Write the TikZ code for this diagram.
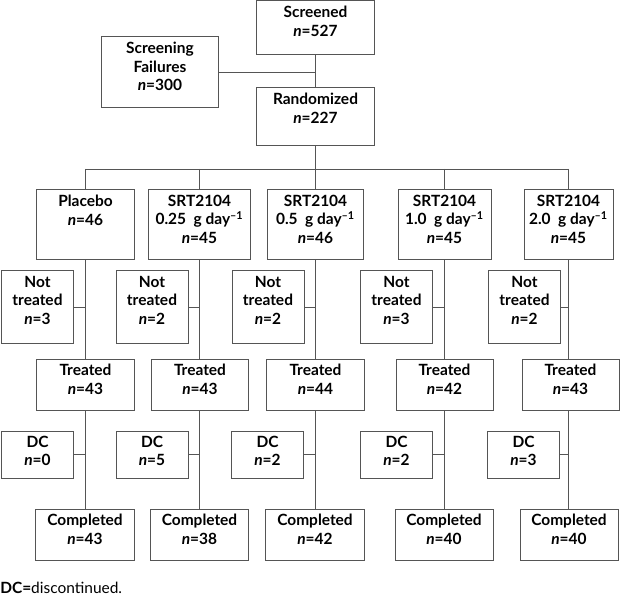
\documentclass[tikz,border=0pt]{standalone}
\usepackage{fontspec}
\setmainfont{Lato}
\usetikzlibrary{positioning}
\definecolor{rulegray}{RGB}{85,85,85}
\tikzset{
  wire/.style={draw=rulegray,line width=0.7pt},
  box/.style={draw=rulegray,line width=0.7pt,inner sep=0pt},
  txt/.style={anchor=north,align=center,inner sep=0pt,yshift=-4pt,
              font=\fontsize{11}{13}\selectfont\bfseries},
  topbox/.style={box,minimum width=2.925cm},
  arm/.style={box,minimum height=1.725cm},
  skipped/.style={box,minimum width=1.8cm,minimum height=1.8cm},
  treated/.style={box,minimum width=2.425cm,minimum height=1.275cm},
  stopped/.style={box,minimum width=1.8cm,minimum height=1.175cm},
  done/.style={box,minimum width=2.45cm,minimum height=1.275cm},
}

\begin{document}
\begin{tikzpicture}[x=0.025cm,y=-0.025cm]
  \path[use as bounding box] (0,0) rectangle (624,597);

  % screening and randomisation
  \node[topbox,minimum height=1.325cm,label={[txt]north:{Screened\\\textit{n}=527}}]
    (scr) at (315.5,27.5) {};
  \node[topbox,minimum width=2.9cm,minimum height=1.75cm,
        label={[txt]north:{Screening\\Failures\\\textit{n}=300}}]
    (fail) at (160,72) {};
  \node[topbox,minimum height=1.425cm,label={[txt]north:{Randomized\\\textit{n}=227}}]
    (rnd) at (315.5,116.5) {};
  \coordinate (split) at (315.5,169);

  % treatment arms
  \node[arm,minimum width=2.425cm,label={[txt]north:{Placebo\\\textit{n}=46}}]
    (a1) at (85.5,224.5) {};
  \node[arm,minimum width=2.525cm,
        label={[txt]north:{SRT2104\\0.25~~g day\textsuperscript{--1}\\\textit{n}=45}}]
    (a2) at (199.5,224.5) {};
  \node[arm,minimum width=2.375cm,
        label={[txt]north:{SRT2104\\0.5~~g day\textsuperscript{--1}\\\textit{n}=46}}]
    (a3) at (315.5,224.5) {};
  \node[arm,minimum width=2.325cm,
        label={[txt]north:{SRT2104\\1.0~~g day\textsuperscript{--1}\\\textit{n}=45}}]
    (a4) at (444.5,224.5) {};
  \node[arm,minimum width=2.225cm,
        label={[txt]north:{SRT2104\\2.0~~g day\textsuperscript{--1}\\\textit{n}=45}}]
    (a5) at (568.5,224.5) {};

  % not treated
  \node[skipped,label={[txt]north:{Not\\treated\\\textit{n}=3}}] (n1) at (37.5,307) {};
  \node[skipped,label={[txt]north:{Not\\treated\\\textit{n}=2}}] (n2) at (152,307) {};
  \node[skipped,label={[txt]north:{Not\\treated\\\textit{n}=2}}] (n3) at (268,307) {};
  \node[skipped,label={[txt]north:{Not\\treated\\\textit{n}=3}}] (n4) at (396.5,307) {};
  \node[skipped,label={[txt]north:{Not\\treated\\\textit{n}=2}}] (n5) at (524.5,307) {};

  % treated
  \node[treated,label={[txt]north:{Treated\\\textit{n}=43}}] (t1) at (85.5,384.5) {};
  \node[treated,label={[txt]north:{Treated\\\textit{n}=43}}] (t2) at (200,384.5) {};
  \node[treated,label={[txt]north:{Treated\\\textit{n}=44}}] (t3) at (315.5,384.5) {};
  \node[treated,label={[txt]north:{Treated\\\textit{n}=42}}] (t4) at (444.5,384.5) {};
  \node[treated,label={[txt]north:{Treated\\\textit{n}=43}}] (t5) at (570.5,384.5) {};

  % discontinued
  \node[stopped,label={[txt]north:{DC\\\textit{n}=0}}] (d1) at (37.5,454.5) {};
  \node[stopped,label={[txt]north:{DC\\\textit{n}=5}}] (d2) at (152,454.5) {};
  \node[stopped,label={[txt]north:{DC\\\textit{n}=2}}] (d3) at (267.5,454.5) {};
  \node[stopped,label={[txt]north:{DC\\\textit{n}=2}}] (d4) at (396.5,454.5) {};
  \node[stopped,label={[txt]north:{DC\\\textit{n}=3}}] (d5) at (523.5,454.5) {};

  % completed
  \node[done,label={[txt]north:{Completed\\\textit{n}=43}}] (c1) at (85,534.5) {};
  \node[done,label={[txt]north:{Completed\\\textit{n}=38}}] (c2) at (199.5,534.5) {};
  \node[done,label={[txt]north:{Completed\\\textit{n}=42}}] (c3) at (315,534.5) {};
  \node[done,label={[txt]north:{Completed\\\textit{n}=40}}] (c4) at (444,534.5) {};
  \node[done,label={[txt]north:{Completed\\\textit{n}=40}}] (c5) at (569,534.5) {};

  \node[anchor=west,inner sep=0pt,font=\fontsize{11}{13}\selectfont] (key) at (0,588)
    {\textbf{DC=}discontinued.};

  % connectors
  \draw[wire] (scr) -- (rnd);
  \draw[wire] (fail.east) -- (fail.east -| scr.south);
  \draw[wire] (rnd.south) -- (split);
  \draw[wire] (a1.north |- split) -- (a5.north |- split);
  \foreach \a/\n/\t/\d/\c in {a1/n1/t1/d1/c1,a2/n2/t2/d2/c2,a3/n3/t3/d3/c3,
                              a4/n4/t4/d4/c4,a5/n5/t5/d5/c5}{
    \draw[wire] (\a.north |- split) -- (\a.north);
    \draw[wire] (\a.south) -- (\a.south |- \t.north);
    \draw[wire] (\a.south |- \t.south) -- (\a.south |- \c.north);
    \draw[wire] (\n.east) -- (\n.east -| \a.south);
    \draw[wire] (\d.east) -- (\d.east -| \a.south);
  }
\end{tikzpicture}
\end{document}
